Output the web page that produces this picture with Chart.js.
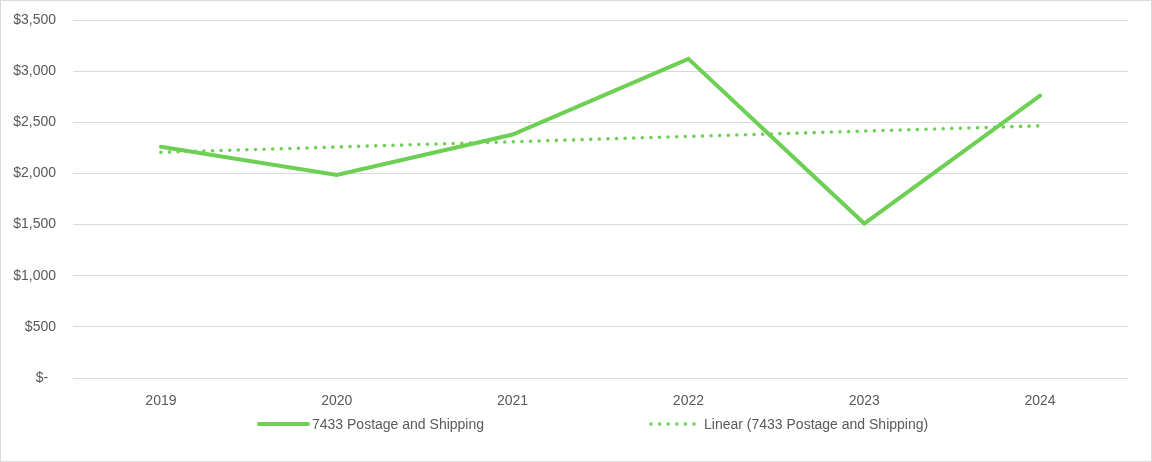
<!DOCTYPE html>
<html>
<head>
<meta charset="utf-8">
<script src="https://cdn.jsdelivr.net/npm/chart.js@4.4.0/dist/chart.umd.min.js"></script>
<style>
  body { margin: 0; background: #fff; }
  #wrap { position: relative; width: 1152px; height: 462px; }
  #frame { position: absolute; left: 0; top: 0; width: 1152px; height: 462px; box-sizing: border-box; border: 1px solid #d9d9d9; pointer-events: none; }
</style>
</head>
<body>
<div id="wrap">
  <canvas id="chartjs1"></canvas>
  <div id="frame"></div>
</div>
<script>
const years = ['2019', '2020', '2021', '2022', '2023', '2024'];
const postage = [2260, 1985, 2380, 3120, 1510, 2760];
const yTicks = [0, 500, 1000, 1500, 2000, 2500, 3000, 3500];
const seriesName = '7433 Postage and Shipping';
const lineColor = '#6dcf53';

// least squares trend, same as the spreadsheet's linear trendline
function linearTrend(vals) {
    var n = vals.length, sx = 0, sy = 0, sxy = 0, sxx = 0;
    for (var i = 0; i < n; i++) {
        sx += i; sy += vals[i]; sxy += i * vals[i]; sxx += i * i;
    }
    var slope = (n * sxy - sx * sy) / (n * sxx - sx * sx);
    var icpt = (sy - slope * sx) / n;
    return vals.map((v, i) => icpt + slope * i);
}
const trend = linearTrend(postage);

function money(v) {
    if (v === 0) return '$-  ';
    return '$' + v.toLocaleString('en-US');
}

// legend drawn under the axis, two items spread apart
const legendPlugin = {
    id: 'spreadLegend',
    afterDraw(chart) {
        const ctx = chart.ctx;
        const items = [
            { ds: chart.data.datasets[0], x0: 259, x1: 308, tx: 312 },
            { ds: chart.data.datasets[1], x0: 651, x1: 698, tx: 704 }
        ];
        const y = 424;
        ctx.save();
        items.forEach(it => {
            ctx.beginPath();
            ctx.strokeStyle = it.ds.borderColor;
            ctx.lineWidth = it.ds.borderWidth;
            ctx.lineCap = it.ds.borderCapStyle || 'butt';
            ctx.setLineDash(it.ds.borderDash || []);
            ctx.moveTo(it.x0, y);
            ctx.lineTo(it.x1, y);
            ctx.stroke();
            ctx.setLineDash([]);
            ctx.fillStyle = '#595959';
            ctx.font = '14px "Liberation Sans"';
            ctx.textBaseline = 'middle';
            ctx.textAlign = 'left';
            ctx.fillText(it.ds.label, it.tx, y + 1);
        });
        ctx.restore();
    }
};

var myChart = new Chart(document.getElementById('chartjs1'), {
    type: 'line',
    data: {
        labels: years,
        datasets: [{
            label: seriesName,
            data: postage,
            borderColor: lineColor,
            borderWidth: 4,
            borderCapStyle: 'round',
            borderJoinStyle: 'miter',
            pointRadius: 0,
            tension: 0
        }, {
            label: 'Linear (' + seriesName + ')',
            data: trend,
            borderColor: lineColor,
            borderWidth: 3.6,
            borderDash: [0, 8.6],
            borderCapStyle: 'round',
            pointRadius: 0,
            tension: 0
        }]
    },
    options: {
        responsive: true,
        maintainAspectRatio: false,
        animation: false,
        layout: { padding: { left: 0, top: 20, right: 24, bottom: 50 } },
        plugins: {
            legend: { display: false },
            tooltip: { enabled: false }
        },
        scales: {
            x: {
                offset: true,
                grid: { display: false, drawTicks: false },
                border: { display: false },
                ticks: { color: '#595959', font: { family: 'Liberation Sans', size: 14 }, padding: 15, maxRotation: 0 },
                afterFit: s => { s.height = 34; }
            },
            y: {
                min: 0,
                max: 3500,
                afterBuildTicks: s => { s.ticks = yTicks.map(v => ({ value: v })); },
                grid: { color: '#d9d9d9', lineWidth: 1, drawTicks: false },
                border: { display: false },
                ticks: { color: '#595959', font: { family: 'Liberation Sans', size: 14 }, padding: 17, callback: v => money(v) },
                afterFit: s => {
                    s.width = 73;
                    s.paddingTop = 0;
                    s.paddingBottom = 0;
                }
            }
        }
    },
    plugins: [legendPlugin]
});
</script>
</body>
</html>
